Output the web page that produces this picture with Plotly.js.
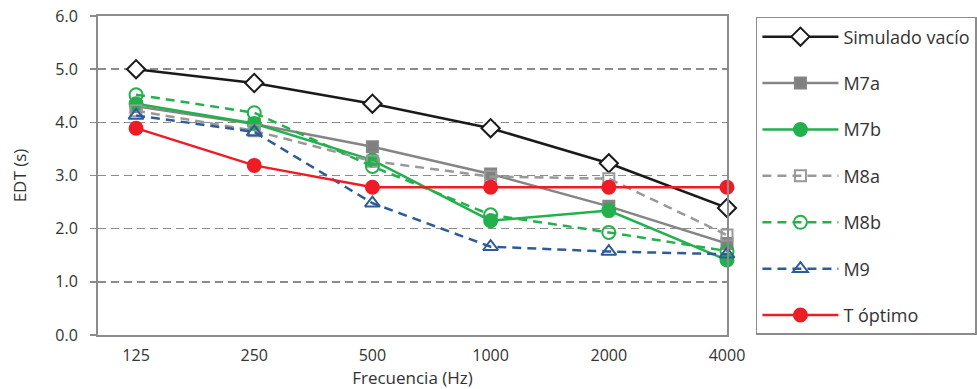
<!DOCTYPE html>
<html>
<head>
<meta charset="utf-8">
<script src="https://cdn.plot.ly/plotly-3.0.1.min.js"></script>
<style>html,body{margin:0;padding:0;background:#fff;}#chart{width:977px;height:389px;}</style>
</head>
<body>
<div id="chart"></div>
<script>
const freqs = ['125', '250', '500', '1000', '2000', '4000'];
const simuladoVacio = [5.0, 4.74, 4.35, 3.89, 3.23, 2.39];
const m7a = [4.3, 3.97, 3.54, 3.03, 2.42, 1.72];
const m7b = [4.35, 3.98, 3.29, 2.15, 2.34, 1.41];
const m8a = [4.22, 3.84, 3.27, 2.98, 2.94, 1.88];
const m8b = [4.52, 4.18, 3.17, 2.26, 1.93, 1.58];
const m9 = [4.13, 3.82, 2.48, 1.66, 1.57, 1.52];
const tOptimo = [3.89, 3.19, 2.78, 2.78, 2.78, 2.78];

const FONT = 'Open Sans, sans-serif';

function tr(name, y, color, dash, symbol, size, fill, group) {
  return {
    x: freqs, y: y, name: name, type: 'scatter', mode: 'lines+markers',
    legendgroup: group, cliponaxis: false,
    line: {color: color, width: 2.5, dash: dash},
    marker: {symbol: symbol, size: size, color: fill, line: {color: color, width: 2}}
  };
}

const data = [
  tr('Simulado vacío', simuladoVacio, '#1a1a1a', 'solid', 'diamond', 14, '#ffffff', 'g1'),
  tr('M7a', m7a, '#858585', 'solid', 'square', 11, '#808080', 'g2'),
  tr('M7b', m7b, '#22b14c', 'solid', 'circle', 13, '#22b14c', 'g3'),
  tr('M8a', m8a, '#999999', '9px,6px', 'square-open', 11, '#999999', 'g4'),
  tr('M8b', m8b, '#22b14c', '9px,6px', 'circle-open', 13, '#22b14c', 'g5'),
  tr('M9', m9, '#2e5b99', '9px,6px', 'triangle-up-open', 13, '#2e5b99', 'g6'),
  tr('T óptimo', tOptimo, '#ee1c24', 'solid', 'circle', 13, '#ee1c24', 'g7')
];

const layout = {
  width: 977, height: 389,
  margin: {l: 98, r: 250, t: 16, b: 54, autoexpand: false},
  paper_bgcolor: '#ffffff', plot_bgcolor: '#ffffff',
  font: {family: FONT, size: 16, color: '#333333'},
  showlegend: true,
  legend: {
    x: 1.046, xanchor: 'left', y: 0.997, yanchor: 'top',
    bordercolor: '#8c8c8c', borderwidth: 1.5,
    font: {family: FONT, size: 18, color: '#333333'},
    traceorder: 'grouped', tracegroupgap: 20, itemwidth: 76
  },
  xaxis: {
    type: 'category', range: [-0.322, 5],
    showgrid: false, showline: true, linecolor: '#8c8c8c', linewidth: 2,
    mirror: true, ticks: '', zeroline: false, ticklabelstandoff: 5,
    tickfont: {family: FONT, size: 16, color: '#333333'},
    title: {text: 'Frecuencia (Hz)', font: {family: FONT, size: 17, color: '#333333'}, standoff: 6}
  },
  yaxis: {
    range: [0, 6], dtick: 1, tickformat: '.1f',
    showgrid: true, gridcolor: '#8c8c8c', gridwidth: 1.5, griddash: '8px,5px',
    showline: true, linecolor: '#8c8c8c', linewidth: 2, mirror: true,
    ticks: 'outside', ticklen: 6, tickcolor: '#8c8c8c', tickwidth: 1.5,
    zeroline: false, ticklabelstandoff: 9,
    tickfont: {family: FONT, size: 16, color: '#333333'},
    title: {text: 'EDT (s)', font: {family: FONT, size: 17, color: '#333333'}, standoff: 24}
  }
};

Plotly.newPlot('chart', data, layout, {displayModeBar: false, staticPlot: true});
</script>
</body>
</html>
